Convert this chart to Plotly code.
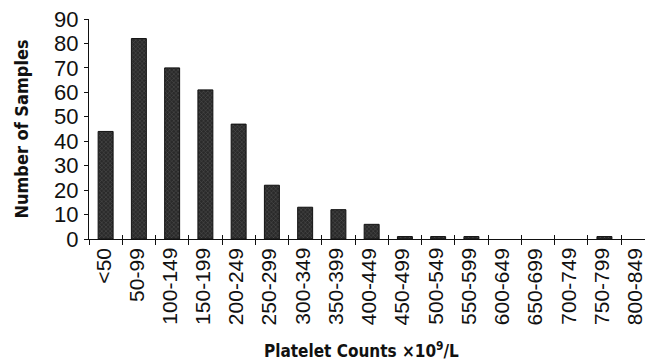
import plotly.graph_objects as go

categories = ["<50", "50-99", "100-149", "150-199", "200-249", "250-299", "300-349",
              "350-399", "400-449", "450-499", "500-549", "550-599", "600-649",
              "650-699", "700-749", "750-799", "800-849"]
samples = [44, 82, 70, 61, 47, 22, 13, 12, 6, 1, 1, 1, 0, 0, 0, 1, 0]
y_ticks = [0, 10, 20, 30, 40, 50, 60, 70, 80, 90]

FONT = "Liberation Sans, Arial, sans-serif"
TFONT = "DejaVu Sans Condensed, Liberation Sans, sans-serif"

fig = go.Figure()
fig.add_trace(go.Bar(
    x=categories, y=samples, width=0.45,
    marker=dict(color="#2a2a2a",
                line=dict(color="#111", width=[1 if v > 0 else 0 for v in samples]),
                pattern=dict(shape="x", fgcolor="#8a8a8a", bgcolor="#2a2a2a", size=3, solidity=0.25)),
    showlegend=False, hoverinfo="x+y",
))
fig.add_trace(go.Bar(x=categories, y=[0] * len(categories), xaxis="x2", showlegend=False,
                     hoverinfo="skip", marker=dict(color="rgba(0,0,0,0)", line=dict(width=0))))

# category labels drawn as rotated annotations anchored under each category
for c in categories:
    fig.add_annotation(x=c, xref="x", y=0, yref="paper", text=c, showarrow=False,
                       textangle=-90, xanchor="center", yanchor="top", yshift=-7, xshift=-3,
                       font=dict(size=21, family=FONT, color="#111"))

fig.add_annotation(x=0.49, xref="paper", y=0, yref="paper", yanchor="middle", yshift=-111,
                   text="<b>Platelet Counts ×10<sup>9</sup>/L</b>", showarrow=False,
                   font=dict(size=17, family=TFONT, color="#111"))

XR = [-0.5, 16.22]
fig.update_layout(
    width=645, height=360,
    margin=dict(l=89, r=0, t=19, b=121, autoexpand=False),
    paper_bgcolor="white", plot_bgcolor="white",
    font=dict(family=FONT, color="#111", size=20),
    xaxis=dict(type="category", categoryorder="array", categoryarray=categories,
               range=XR, tickson="boundaries", ticks="outside", ticklen=5,
               tickcolor="#111", tickwidth=1.2, showline=True, linecolor="#111", linewidth=1.2,
               showticklabels=False, showgrid=False, automargin=False),
    xaxis2=dict(type="category", categoryorder="array", categoryarray=categories,
                range=XR, overlaying="x", matches="x", tickson="boundaries",
                ticks="inside", ticklen=4, tickcolor="#111", tickwidth=1.2,
                showticklabels=False, showgrid=False, showline=False, anchor="y",
                automargin=False),
    yaxis=dict(range=[0, 90], tickvals=y_ticks, ticks="outside", ticklen=4,
               tickcolor="#111", tickwidth=1.2, showline=True, linecolor="#111", linewidth=1.2,
               showgrid=False, zeroline=False, tickfont=dict(size=22, family=FONT),
               ticklabelstandoff=1, automargin=False,
               title=dict(text="<b>Number of Samples</b>", font=dict(size=18, family=TFONT), standoff=20)),
)

fig.write_html("out.html", config={"displayModeBar": False},
               post_script="document.body.style.margin='0';document.body.style.overflow='hidden';")
